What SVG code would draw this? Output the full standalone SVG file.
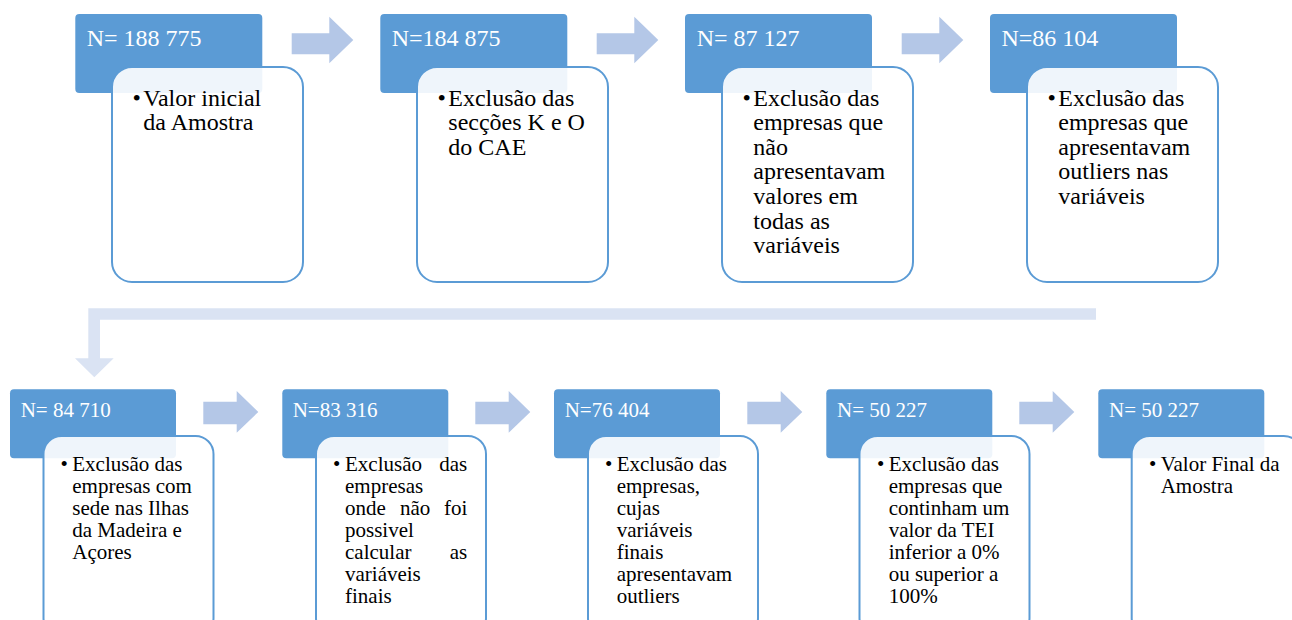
<svg xmlns="http://www.w3.org/2000/svg" width="1292" height="620" viewBox="0 0 1292 620">
<style>
.hd{fill:#5b9bd5;}
.bx{fill:#ffffff;fill-opacity:0.9;stroke:#5b9bd5;stroke-width:2;}
.ht{fill:#ffffff;}
.bt{fill:#000000;}
.t1{font-size:24px;}
.t2{font-size:21px;}
.arr{fill:#b4c7e7;}
.band{fill:#dae3f3;}
</style>
<rect width="1292" height="620" fill="#ffffff"/>
<g id="connectors">
<polygon class="band" points="1096,308.3 88.3,308.3 88.3,358.3 75,358.3 94.3,377.3 113.7,358.3 100,358.3 100,319.7 1096,319.7"/>
<polygon class="arr" points="291.7,33.3 329.3,33.3 329.3,16.7 353.3,40 329.3,63.3 329.3,54.3 291.7,54.3"/>
<polygon class="arr" points="596.7,33.3 634.3,33.3 634.3,16.7 658.3,40 634.3,63.3 634.3,54.3 596.7,54.3"/>
<polygon class="arr" points="901.7,33.3 939.3,33.3 939.3,16.7 963.3,40 939.3,63.3 939.3,54.3 901.7,54.3"/>
<polygon class="arr" points="203.3,401.7 236.7,401.7 236.7,391 258.3,412 236.7,432.7 236.7,424.3 203.3,424.3"/>
<polygon class="arr" points="475.3,401.7 508.7,401.7 508.7,391 530.3,412 508.7,432.7 508.7,424.3 475.3,424.3"/>
<polygon class="arr" points="747.3,401.7 780.7,401.7 780.7,391 802.3,412 780.7,432.7 780.7,424.3 747.3,424.3"/>
<polygon class="arr" points="1019.3,401.7 1052.7,401.7 1052.7,391 1074.3,412 1052.7,432.7 1052.7,424.3 1019.3,424.3"/>
</g>
<g font-family="Liberation Serif, Times New Roman, serif">
<g id="n1">
<rect class="hd" x="75.3" y="14" width="187" height="79" rx="4"/>
<text class="ht t1" x="86.7" y="45.5">N= 188 775</text>
<rect class="bx" x="112" y="67" width="191" height="215" rx="20"/>
<text class="bt t1" x="132.5" y="105.5">•</text>
<text class="bt t1"><tspan x="143.3" y="105.5">Valor inicial</tspan><tspan x="143.3" y="130.1">da Amostra</tspan></text>
</g>
<g id="n2">
<rect class="hd" x="380.3" y="14" width="187" height="79" rx="4"/>
<text class="ht t1" x="391.7" y="45.5">N=184 875</text>
<rect class="bx" x="417" y="67" width="191" height="215" rx="20"/>
<text class="bt t1" x="437.5" y="105.5">•</text>
<text class="bt t1"><tspan x="448.3" y="105.5">Exclusão das</tspan><tspan x="448.3" y="130.1">secções K e O</tspan><tspan x="448.3" y="154.7">do CAE</tspan></text>
</g>
<g id="n3">
<rect class="hd" x="685" y="14" width="187" height="79" rx="4"/>
<text class="ht t1" x="696.7" y="45.5">N= 87 127</text>
<rect class="bx" x="722" y="67" width="191" height="215" rx="20"/>
<text class="bt t1" x="742.5" y="105.5">•</text>
<text class="bt t1"><tspan x="753.3" y="105.5">Exclusão das</tspan><tspan x="753.3" y="130.1">empresas que</tspan><tspan x="753.3" y="154.7">não</tspan><tspan x="753.3" y="179.3">apresentavam</tspan><tspan x="753.3" y="203.9">valores em</tspan><tspan x="753.3" y="228.5">todas as</tspan><tspan x="753.3" y="253.1">variáveis</tspan></text>
</g>
<g id="n4">
<rect class="hd" x="990" y="14" width="187" height="79" rx="4"/>
<text class="ht t1" x="1001.4" y="45.5">N=86 104</text>
<rect class="bx" x="1027" y="67" width="191" height="215" rx="20"/>
<text class="bt t1" x="1047.5" y="105.5">•</text>
<text class="bt t1"><tspan x="1058.3" y="105.5">Exclusão das</tspan><tspan x="1058.3" y="130.1">empresas que</tspan><tspan x="1058.3" y="154.7">apresentavam</tspan><tspan x="1058.3" y="179.3">outliers nas</tspan><tspan x="1058.3" y="203.9">variáveis</tspan></text>
</g>
<g id="n5">
<rect class="hd" x="10" y="389.3" width="166" height="69" rx="4"/>
<text class="ht t2" x="20.7" y="416.7">N= 84 710</text>
<rect class="bx" x="43.5" y="436" width="170" height="200" rx="18"/>
<text class="bt t2" x="60.5" y="471">•</text>
<text class="bt t2"><tspan x="72.3" y="471">Exclusão das</tspan><tspan x="72.3" y="493">empresas com</tspan><tspan x="72.3" y="515">sede nas Ilhas</tspan><tspan x="72.3" y="537">da Madeira e</tspan><tspan x="72.3" y="559">Açores</tspan></text>
</g>
<g id="n6">
<rect class="hd" x="282.3" y="389.3" width="166" height="69" rx="4"/>
<text class="ht t2" x="292.7" y="416.7">N=83 316</text>
<rect class="bx" x="316" y="436" width="170" height="200" rx="18"/>
<text class="bt t2" x="333" y="471">•</text>
<text class="bt t2" x="345" y="471">Exclusão</text>
<text class="bt t2" x="467.3" y="471" text-anchor="end">das</text>
<text class="bt t2" x="345" y="493">empresas</text>
<text class="bt t2" x="345" y="515">onde</text>
<text class="bt t2" x="400" y="515">não</text>
<text class="bt t2" x="467.3" y="515" text-anchor="end">foi</text>
<text class="bt t2" x="345" y="537">possivel</text>
<text class="bt t2" x="345" y="559">calcular</text>
<text class="bt t2" x="467.3" y="559" text-anchor="end">as</text>
<text class="bt t2" x="345" y="581">variáveis</text>
<text class="bt t2" x="345" y="603">finais</text>
</g>
<g id="n7">
<rect class="hd" x="554" y="389.3" width="166" height="69" rx="4"/>
<text class="ht t2" x="564.7" y="416.7">N=76 404</text>
<rect class="bx" x="588" y="436" width="170" height="200" rx="18"/>
<text class="bt t2" x="605" y="471">•</text>
<text class="bt t2"><tspan x="616.7" y="471">Exclusão das</tspan><tspan x="616.7" y="493">empresas,</tspan><tspan x="616.7" y="515">cujas</tspan><tspan x="616.7" y="537">variáveis</tspan><tspan x="616.7" y="559">finais</tspan><tspan x="616.7" y="581">apresentavam</tspan><tspan x="616.7" y="603">outliers</tspan></text>
</g>
<g id="n8">
<rect class="hd" x="826.3" y="389.3" width="166" height="69" rx="4"/>
<text class="ht t2" x="837" y="416.7">N= 50 227</text>
<rect class="bx" x="859.5" y="436" width="170" height="200" rx="18"/>
<text class="bt t2" x="877" y="471">•</text>
<text class="bt t2"><tspan x="888.7" y="471">Exclusão das</tspan><tspan x="888.7" y="493">empresas que</tspan><tspan x="888.7" y="515">continham um</tspan><tspan x="888.7" y="537">valor da TEI</tspan><tspan x="888.7" y="559">inferior a 0%</tspan><tspan x="888.7" y="581">ou superior a</tspan><tspan x="888.7" y="603">100%</tspan></text>
</g>
<g id="n9">
<rect class="hd" x="1098.3" y="389.3" width="166" height="69" rx="4"/>
<text class="ht t2" x="1109" y="416.7">N= 50 227</text>
<rect class="bx" x="1131.7" y="436" width="170" height="200" rx="18"/>
<text class="bt t2" x="1149" y="471">•</text>
<text class="bt t2"><tspan x="1160.7" y="471">Valor Final da</tspan><tspan x="1160.7" y="493">Amostra</tspan></text>
</g>
</g>
</svg>
